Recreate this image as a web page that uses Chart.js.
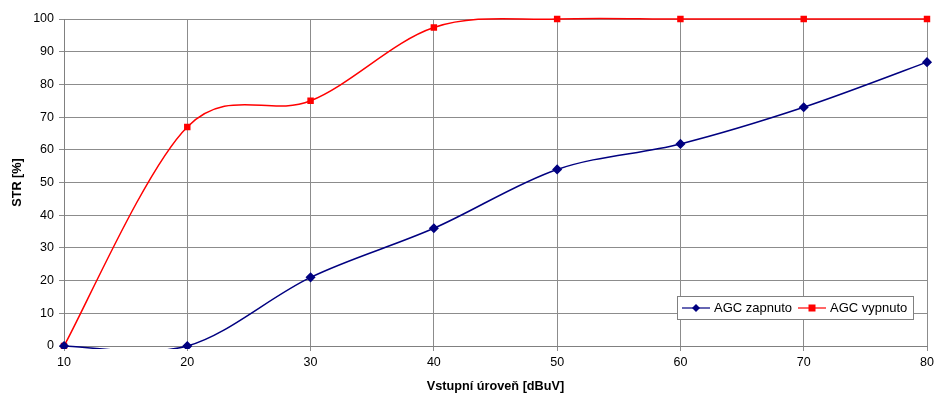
<!DOCTYPE html>
<html><head><meta charset="utf-8">
<script src="https://cdn.jsdelivr.net/npm/chart.js@4/dist/chart.umd.min.js"></script>
<style>html,body{margin:0;padding:0;background:#fff}#wrap{width:935px;height:396px}</style>
</head><body><div id="wrap"><canvas id="c" width="935" height="396"></canvas></div>
<script>
const xValues = [10, 20, 30, 40, 50, 60, 70, 80];
const agcOn = [0, 0, 21, 36, 54, 61.8, 73, 86.8];
const agcOff = [0, 67, 75, 97.4, 100, 100, 100, 100];
const seriesNames = ['AGC zapnuto', 'AGC vypnuto'];
const xTitle = 'Vstupní úroveň [dBuV]';
const yTitle = 'STR [%]';

const FONT = "'Liberation Sans', Arial, sans-serif";

// Excel-like smoothing: uniform Catmull-Rom control points (1/6 of neighbour chord)
const excelSmooth = {
  id: 'excelSmooth',
  beforeDatasetsDraw(chart) {
    chart.getSortedVisibleDatasetMetas().forEach(meta => {
      const pts = meta.data, n = pts.length;
      for (let i = 0; i < n; i++) {
        const p = pts[i], prev = pts[Math.max(i - 1, 0)], next = pts[Math.min(i + 1, n - 1)];
        const dx = (next.x - prev.x) / 6, dy = (next.y - prev.y) / 6;
        p.cp1x = p.x - dx; p.cp1y = p.y - dy;
        p.cp2x = p.x + dx; p.cp2y = p.y + dy;
      }
      meta.dataset._pointsUpdated = true;
      delete meta.dataset._path;
    });
  }
};

const legendPlugin = {
  id: 'boxLegend',
  afterDraw(chart) {
    const ctx = chart.ctx;
    const x0 = 677, y0 = 296, w = 236, h = 23;
    ctx.save();
    ctx.fillStyle = '#fff';
    ctx.fillRect(x0, y0, w, h);
    ctx.strokeStyle = '#808080';
    ctx.lineWidth = 1;
    ctx.strokeRect(x0 + 0.5, y0 + 0.5, w, h);
    ctx.font = '13px ' + FONT;
    ctx.textBaseline = 'middle';
    const items = [{x: 682}, {x: 798}];
    chart.data.datasets.forEach((ds, i) => {
      const lx = items[i].x, cy = y0 + h / 2 + 0.5;
      ctx.strokeStyle = ds.borderColor;
      ctx.lineWidth = 1.2;
      ctx.beginPath(); ctx.moveTo(lx, cy); ctx.lineTo(lx + 28, cy); ctx.stroke();
      ctx.fillStyle = ds.pointBackgroundColor;
      const mx = lx + 14;
      if (ds.pointStyle === 'rect') {
        ctx.fillRect(mx - 3.5, cy - 3.5, 7, 7);
      } else {
        ctx.beginPath(); ctx.moveTo(mx, cy - 4); ctx.lineTo(mx + 4, cy); ctx.lineTo(mx, cy + 4); ctx.lineTo(mx - 4, cy); ctx.closePath(); ctx.fill();
      }
      ctx.fillStyle = '#000';
      ctx.fillText(ds.label, lx + 32, cy);
    });
    ctx.restore();
  }
};

const clipBox = {left: 6, top: 6, right: 6, bottom: 3};

new Chart(document.getElementById('c'), {
  type: 'line',
  data: {
    datasets: [
      {
        label: seriesNames[0],
        data: xValues.map((x, i) => ({x, y: agcOn[i]})),
        borderColor: '#000080', backgroundColor: '#000080',
        pointBackgroundColor: '#000080', pointBorderColor: '#000080',
        pointStyle: 'rectRot', pointRadius: 4, borderWidth: 1.5,
        tension: 0.4, clip: clipBox
      },
      {
        label: seriesNames[1],
        data: xValues.map((x, i) => ({x, y: agcOff[i]})),
        borderColor: '#ff0000', backgroundColor: '#ff0000',
        pointBackgroundColor: '#ff0000', pointBorderColor: '#ff0000',
        pointStyle: 'rect', pointRadius: 3.5, borderWidth: 1.5,
        tension: 0.4, clip: clipBox
      }
    ]
  },
  options: {
    responsive: false, animation: false,
    layout: { padding: { top: 19, right: 0, left: 0, bottom: 0 } },
    plugins: { legend: { display: false }, tooltip: { enabled: false } },
    scales: {
      x: {
        type: 'linear', min: 10, max: 80,
        ticks: { stepSize: 10, color: '#000', font: { size: 12.5, family: FONT }, padding: 4, maxRotation: 0 },
        grid: { color: '#8c8c8c', tickLength: 5, lineWidth: 1 },
        border: { color: '#808080', width: 1 },
        title: { display: true, text: xTitle, color: '#000', font: { size: 12.7, weight: 'bold', family: FONT }, padding: { top: 6, bottom: 2 } },
        afterFit(s) { s.height = 50; s.paddingRight = 8; }
      },
      y: {
        min: 0, max: 100,
        ticks: { stepSize: 10, color: '#000', font: { size: 12.5, family: FONT }, padding: 5 },
        grid: { color: '#8c8c8c', tickLength: 5, lineWidth: 1 },
        border: { color: '#808080', width: 1 },
        title: { display: true, text: yTitle, color: '#000', font: { size: 12.7, weight: 'bold', family: FONT }, padding: { top: 10, bottom: 6 } },
        afterFit(s) { s.width = 64; s.paddingTop = 0; }
      }
    }
  },
  plugins: [excelSmooth, legendPlugin]
});
</script></body></html>
